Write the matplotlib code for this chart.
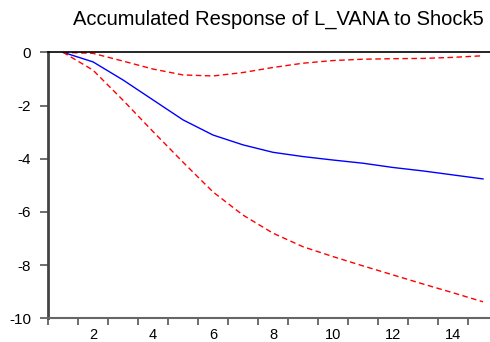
import matplotlib
matplotlib.use("Agg")
import matplotlib.pyplot as plt
import numpy as np

# accumulated impulse response, periods 1..15
periods = np.arange(1, 16)
response = [0.0, -0.36, -1.04, -1.79, -2.54, -3.11, -3.48, -3.76,
            -3.92, -4.05, -4.17, -4.33, -4.46, -4.61, -4.76]
upper = [0.0, -0.04, -0.33, -0.63, -0.85, -0.89, -0.76, -0.57,
         -0.41, -0.31, -0.26, -0.24, -0.23, -0.19, -0.13]
lower = [0.0, -0.67, -1.80, -2.98, -4.13, -5.25, -6.12, -6.80,
         -7.31, -7.68, -8.03, -8.37, -8.71, -9.04, -9.38]

title = "Accumulated Response of L_VANA to Shock5"
xlabels = [2, 4, 6, 8, 10, 12, 14]
yticks = [0, -2, -4, -6, -8, -10]

plt.rcParams['font.family'] = ['Liberation Sans', 'DejaVu Sans']

W, H = 490, 342
fig = plt.figure(figsize=(W / 100, H / 100), dpi=100)
# axes runs past the right edge of the picture, like the original
ax = fig.add_axes([48 / W, 1 - 318.3 / H, 450 / W, 266 / H])

ax.plot(periods, response, color='#0000ff', lw=1.0)
ax.plot(periods, upper, color='#ff0000', lw=1.0, dashes=(4, 2.5))
ax.plot(periods, lower, color='#ff0000', lw=1.0, dashes=(4, 2.5))

ax.set_xlim(0.5, 15.5)
ax.set_ylim(-10, 0)

# tick marks on period boundaries, labels at period centres
ax.set_xticks(np.arange(0.5, 15.6, 1.0))
ax.set_xticklabels([])
ax.set_xticks(xlabels, minor=True)
ax.set_xticklabels([str(v) for v in xlabels], minor=True)
ax.tick_params(axis='x', which='major', length=5, width=1.2, color='#555555',
               direction='out')
ax.tick_params(axis='x', which='minor', length=0, pad=7, labelsize=10.5)

ax.set_yticks(yticks)
ax.set_yticklabels([str(v) for v in yticks])
ax.tick_params(axis='y', length=6, width=1.2, color='#555555', direction='out',
               pad=6, labelsize=11)

ax.spines['top'].set_color('black')
ax.spines['top'].set_linewidth(1.2)
ax.spines['left'].set_color('#444444')
ax.spines['left'].set_linewidth(2.0)
ax.spines['bottom'].set_color('#666666')
ax.spines['bottom'].set_linewidth(1.5)
ax.spines['right'].set_visible(False)

fig.text(278 / W, 1 - 25 / H, title, ha='center', va='baseline', fontsize=14.5)

fig.savefig('out.png', dpi=100)
